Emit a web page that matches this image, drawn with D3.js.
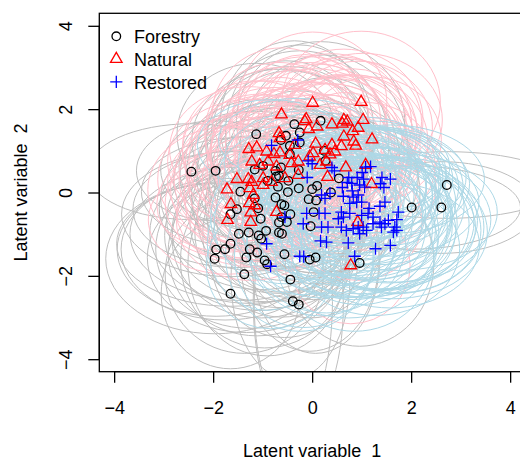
<!DOCTYPE html>
<html>
<head>
<meta charset="utf-8">
<script src="https://cdn.jsdelivr.net/npm/d3@7/dist/d3.min.js"></script>
<style>
  html, body { margin: 0; padding: 0; background: #fff; }
  svg { display: block; }
  text { font-family: "Liberation Sans", Arial, Helvetica, sans-serif; fill: #000; }
</style>
</head>
<body>
<svg id="chart" width="520" height="463"></svg>
<script>
// Site scores on the two latent variables, with the half-widths of each site's prediction region
const forestryX = [-2.44,-1.95,-1.13,0.17,-0.36,-0.53,-0.63,-0.25,-0.45,-0.45, -0.25,0.24,0.27,-1.16,-0.99,-0.74,-0.67,-0.73,-0.63,-0.27, -0.90,-0.69,-0.48,-0.27,0.00,0.10,0.38,0.54,2.72,-1.45, -1.16,-0.74,-0.49,-0.07,0.08,-0.62,-0.56,-1.09,-1.52,-1.65, -1.04,-0.62,-0.51,-0.44,-0.67,0.03,-0.03,2.01,2.61,-1.48, -1.28,-1.08,-1.03,-0.93,-0.67,-0.61,-1.65,-1.76,-1.94,-1.97, -1.26,-1.11,-1.33,-0.96,-0.91,-0.56,-0.05,0.07,0.96,-1.37, -0.44,-1.65,-0.39,-0.27];
const forestryY = [0.50,0.52,1.40,1.72,1.64,1.36,1.26,1.44,1.12,0.92, 1.20,1.00,0.76,0.55,0.64,0.52,0.40,0.38,0.60,0.54, 0.28,0.14,0.28,0.10,0.08,0.16,0.00,0.34,0.18,0.02, -0.14,-0.12,0.01,-0.16,-0.19,-0.28,-0.31,-0.38,-0.40,-0.52, -0.63,-0.59,-0.71,-0.52,-0.72,-0.47,-0.81,-0.36,-0.36,-0.99, -0.96,-1.03,-1.11,-0.92,-0.96,-0.99,-1.23,-1.36,-1.37,-1.59, -1.36,-1.44,-1.56,-1.63,-1.72,-1.48,-1.61,-1.56,-1.69,-1.96, -2.09,-2.43,-2.61,-2.69];
const forestryRX = [2.1,1.6,1.6,1.7,1.5,1.6,1.8,1.5,1.7,1.6, 1.8,1.7,1.5,1.9,1.7,1.8,2.0,1.6,1.7,1.5, 1.9,1.8,1.6,1.7,1.5,1.6,1.8,1.6,2.3,2.0, 1.9,1.7,1.6,1.5,1.7,1.8,1.6,2.0,2.1,2.2, 1.9,1.7,1.6,1.5,1.8,1.6,1.5,2.2,1.9,2.2, 2.0,1.9,1.8,1.9,1.7,1.6,2.3,2.1,2.0,2.2, 1.9,1.8,2.0,1.7,1.6,1.5,1.4,1.3,1.5,1.6, 1.2,1.4,0.8,0.9];
const forestryRY = [1.15,1.2,1.7,1.9,2.0,1.8,1.7,2.1,1.9,2.0, 2.2,2.3,2.0,1.4,1.6,1.5,1.7,1.8,1.6,1.9, 1.5,1.7,1.8,1.9,2.0,2.1,1.9,1.8,0.8,1.3, 1.5,1.7,1.8,1.9,2.0,1.6,1.8,1.5,1.4,1.5, 1.7,1.8,1.9,2.0,1.7,2.1,2.2,1.0,1.1,1.6, 1.7,1.8,1.9,1.7,1.8,2.0,1.5,1.7,1.6,1.8, 1.9,2.0,1.8,2.1,2.2,2.0,2.2,2.3,2.0,1.9, 2.4,1.8,2.9,2.8];

const naturalX = [0.01,0.99,-0.62,-0.12,-0.15,0.64,0.71,0.61,1.03,0.40, 0.10,-0.07,-0.67,0.82,0.93,0.07,0.64,0.84,0.88,1.21, 0.40,0.59,0.46,0.26,0.36,-1.28,-1.12,-0.92,-0.65,-0.77, -0.65,-0.35,-0.45,-1.22,-1.06,-0.89,-0.72,-0.42,-0.28,0.02, -0.05,0.29,0.16,0.68,1.08,1.20,0.31,-1.52,-1.29,-0.99, -0.82,-0.55,-0.28,-1.72,-1.22,-0.99,-1.26,-1.19,-1.64,-1.27, -1.16,-0.72,-1.24,-1.71,-1.24,0.92,0.78];
const naturalY = [2.15,2.17,1.87,1.76,1.71,1.74,1.70,1.65,1.74,1.63, 1.58,1.52,1.42,1.47,1.55,1.17,1.34,1.22,1.12,1.27, 1.14,1.11,0.98,1.02,0.91,1.04,1.08,0.98,0.96,0.92, 1.30,1.14,0.90,0.74,0.66,0.74,0.62,0.70,0.74,0.94, 0.86,0.74,0.66,0.60,0.66,0.20,0.37,0.32,0.32,0.34, 0.25,0.34,0.42,0.07,0.25,0.18,0.10,-0.06,-0.28,-0.26, -0.31,-0.47,-0.48,-0.66,-0.71,-0.71,-1.75];
const naturalRX = [1.5,1.6,1.4,1.5,1.3,1.6,1.5,1.4,1.6,1.5, 1.4,1.6,1.5,1.3,1.5,1.6,1.4,1.5,1.3,1.4, 1.6,1.5,1.4,1.7,1.5,1.6,1.5,1.7,1.4,1.6, 1.5,1.4,1.6,1.7,1.5,1.6,1.4,1.5,1.7,1.6, 1.5,1.4,1.6,1.3,1.4,1.3,1.5,1.6,1.5,1.7, 1.4,1.6,1.5,1.6,1.7,1.5,1.6,1.4,1.5,1.7, 1.4,1.6,1.5,1.6,1.5,1.3,1.2];
const naturalRY = [1.7,1.7,1.6,1.5,1.6,1.7,1.5,1.6,1.6,1.7, 1.5,1.6,1.7,1.5,1.6,1.8,1.5,1.6,1.7,1.5, 1.6,1.7,1.8,1.6,1.7,1.5,1.6,1.7,1.8,1.6, 1.7,1.8,1.6,1.5,1.7,1.6,1.7,1.8,1.6,1.7, 1.8,1.6,1.7,1.8,1.5,1.6,1.7,1.5,1.6,1.7, 1.6,1.8,1.7,1.5,1.4,1.6,1.5,1.4,1.3,1.4, 1.3,1.4,1.3,1.3,1.4,1.4,1.4];

const restoredX = [-0.82,-0.29,-0.08,0.00,-0.10,0.40,0.45,0.74,0.71,0.91, 1.01,1.08,1.18,1.04,1.41,1.58,1.45,1.38,0.61,0.81, 0.80,0.96,1.06,0.19,0.36,0.26,0.63,0.83,0.93,1.00, 0.90,0.76,1.37,1.47,1.15,0.26,0.14,-0.11,-0.18,0.59, 0.63,0.76,0.53,1.00,1.13,1.23,1.37,1.54,1.47,1.74, 1.71,0.19,0.32,0.59,0.69,0.83,0.93,1.03,1.10,0.96, 1.23,1.40,1.67,1.71,1.64,0.17,0.29,0.73,1.28,1.58, -0.92,-0.84,-0.25,-0.17,0.86,-0.55];
const restoredY = [1.13,1.26,0.76,0.69,0.36,0.60,0.52,0.36,0.24,0.36, 0.48,0.61,0.62,0.32,0.36,0.32,0.12,0.21,0.12,0.04, 0.22,0.18,0.13,-0.06,-0.02,-0.14,-0.09,-0.11,-0.06,-0.23, -0.23,-0.26,-0.33,-0.23,-0.38,-0.50,-0.50,-0.50,-0.75,-0.47, -0.59,-0.50,-0.63,-0.55,-0.50,-0.59,-0.71,-0.67,-0.75,-0.47, -0.65,-0.83,-0.83,-0.83,-0.91,-0.87,-0.83,-0.83,-0.91,-0.99, -0.75,-0.83,-0.83,-0.91,-0.95,-1.16,-1.19,-1.21,-1.35,-1.27, -1.23,-1.77,-1.53,-1.54,-1.53,-0.59];
const restoredRX = [1.5,1.6,1.7,1.5,1.8,1.6,1.7,1.9,1.6,1.8, 1.7,1.5,1.6,1.8,1.7,1.9,1.6,1.8,1.7,1.5, 1.8,1.6,1.9,1.5,1.7,1.6,1.8,1.7,1.5,1.9, 1.6,1.8,1.7,1.9,1.6,1.5,1.7,1.6,1.8,1.7, 1.6,1.9,1.5,1.8,1.7,1.6,1.9,1.8,1.7,2.0, 1.9,1.6,1.5,1.7,1.8,1.6,1.9,1.7,1.8,1.6, 1.7,1.9,1.8,1.7,1.9,1.5,1.6,1.8,1.7,1.8, 1.2,1.3,1.5,1.4,1.6,1.5];
const restoredRY = [1.1,1.0,1.2,1.2,1.3,1.1,1.2,1.3,1.4,1.2, 1.1,1.2,1.1,1.3,1.2,1.3,1.4,1.3,1.4,1.3, 1.4,1.3,1.4,1.5,1.4,1.5,1.4,1.5,1.4,1.5, 1.4,1.5,1.4,1.3,1.5,1.6,1.5,1.6,1.7,1.5, 1.6,1.5,1.6,1.5,1.6,1.5,1.6,1.5,1.6,1.4, 1.5,1.7,1.6,1.7,1.6,1.7,1.6,1.7,1.6,1.7, 1.6,1.5,1.6,1.5,1.6,1.8,1.7,1.8,1.6,1.5, 1.6,1.5,1.8,1.7,1.8,1.6];

const groupNames = ["Forestry", "Natural", "Restored"];
const tickValues = [-4, -2, 0, 2, 4];
const xLabel = "Latent variable  1";
const yLabel = "Latent variable  2";

const groups = [
  { name: groupNames[0], xs: forestryX, ys: forestryY, rx: forestryRX, ry: forestryRY, pch: "circle",   col: "#000000", ring: "#bebebe" },
  { name: groupNames[1], xs: naturalX,  ys: naturalY,  rx: naturalRX,  ry: naturalRY,  pch: "triangle", col: "#ff0000", ring: "#ffc0cb" },
  { name: groupNames[2], xs: restoredX, ys: restoredY, rx: restoredRX, ry: restoredRY, pch: "plus",     col: "#0000ff", ring: "#add8e6" }
];

const svg = d3.select("#chart");
const plot = { left: 99.3, right: 525, top: 13.3, bottom: 371.7 };

const x = d3.scaleLinear().domain([-4.3, 4.3]).range([plot.left, plot.right]);
const y = d3.scaleLinear().domain([-4.3, 4.3]).range([plot.bottom, plot.top]);

svg.append("defs").append("clipPath").attr("id", "plotArea")
  .append("rect")
  .attr("x", plot.left).attr("y", plot.top)
  .attr("width", plot.right - plot.left).attr("height", plot.bottom - plot.top);

// Prediction regions around each site
const regions = svg.append("g").attr("clip-path", "url(#plotArea)");
groups.forEach(g => {
  regions.append("g").selectAll("ellipse")
    .data(g.xs.map((v, i) => ({ x: v, y: g.ys[i], rx: g.rx[i], ry: g.ry[i] })))
    .join("ellipse")
    .attr("cx", d => x(d.x))
    .attr("cy", d => y(d.y))
    .attr("rx", d => x(d.x + d.rx) - x(d.x))
    .attr("ry", d => y(d.y) - y(d.y + d.ry))
    .attr("fill", "none")
    .attr("stroke", g.ring)
    .attr("stroke-width", 1);
});

// Point symbols in the style of R's pch 1, 2 and 3
const unit = 4.3;
function symbolPath(pch) {
  if (pch === "triangle") {
    const r = 1.5551 * unit, w = 1.3468 * unit, b = 0.7776 * unit;
    return `M0,${-r}L${w},${b}L${-w},${b}Z`;
  }
  const a = Math.SQRT2 * unit;
  return `M${-a},0H${a}M0,${-a}V${a}`;
}
function drawSymbol(sel, pch, col) {
  if (pch === "circle") {
    sel.append("circle").attr("r", unit).attr("fill", "none")
      .attr("stroke", col).attr("stroke-width", 1.3);
  } else {
    sel.append("path").attr("d", symbolPath(pch)).attr("fill", "none")
      .attr("stroke", col).attr("stroke-width", 1.3);
  }
}

const pts = svg.append("g").attr("clip-path", "url(#plotArea)");
groups.forEach(g => {
  pts.append("g").selectAll("g")
    .data(g.xs.map((v, i) => ({ x: v, y: g.ys[i] })))
    .join("g")
    .attr("transform", d => `translate(${x(d.x)},${y(d.y)})`)
    .each(function () { drawSymbol(d3.select(this), g.pch, g.col); });
});

// Frame
svg.append("rect")
  .attr("x", plot.left).attr("y", plot.top)
  .attr("width", plot.right - plot.left).attr("height", plot.bottom - plot.top)
  .attr("fill", "none").attr("stroke", "#000").attr("stroke-width", 1.3);

const fmt = v => (v < 0 ? "\u2212" + Math.abs(v) : String(v));

// Bottom axis
const xAxis = svg.append("g")
  .attr("transform", `translate(0,${plot.bottom})`)
  .call(d3.axisBottom(x).tickValues(tickValues).tickSize(11).tickPadding(19).tickFormat(fmt));
xAxis.select(".domain").remove();
xAxis.selectAll(".tick line").attr("stroke", "#000").attr("stroke-width", 1.3);
xAxis.selectAll(".tick text")
  .attr("font-size", 18).attr("fill", "#000")
  .style("font-family", '"Liberation Sans", Arial, Helvetica, sans-serif');
xAxis.append("line")
  .attr("x1", x(tickValues[0])).attr("x2", x(tickValues[tickValues.length - 1]))
  .attr("stroke", "#000").attr("stroke-width", 1.3);

// Left axis with labels turned parallel to the axis
const yAxis = svg.append("g")
  .attr("transform", `translate(${plot.left},0)`)
  .call(d3.axisLeft(y).tickValues(tickValues).tickSize(11).tickFormat(fmt));
yAxis.select(".domain").remove();
yAxis.selectAll(".tick line").attr("stroke", "#000").attr("stroke-width", 1.3);
yAxis.selectAll(".tick text")
  .attr("x", null).attr("dy", null)
  .attr("transform", "translate(-27,0) rotate(-90)")
  .attr("text-anchor", "middle")
  .attr("font-size", 18).attr("fill", "#000")
  .style("font-family", '"Liberation Sans", Arial, Helvetica, sans-serif');
yAxis.append("line")
  .attr("y1", y(tickValues[0])).attr("y2", y(tickValues[tickValues.length - 1]))
  .attr("stroke", "#000").attr("stroke-width", 1.3);

// Axis titles
svg.append("text")
  .attr("x", (plot.left + plot.right) / 2).attr("y", 456.7)
  .attr("text-anchor", "middle").attr("font-size", 18)
  .style("white-space", "pre")
  .text(xLabel);
svg.append("text")
  .attr("transform", `translate(26.8,${(plot.top + plot.bottom) / 2}) rotate(-90)`)
  .attr("text-anchor", "middle").attr("font-size", 18)
  .style("white-space", "pre")
  .text(yLabel);

// Legend
const legend = svg.append("g");
groups.forEach((g, i) => {
  const cy = 36.3 + i * 22.8;
  const item = legend.append("g");
  drawSymbol(item.append("g").attr("transform", `translate(116.3,${cy})`), g.pch, g.col);
  item.append("text").attr("x", 134).attr("y", cy + 7)
    .attr("font-size", 18).text(g.name);
});
</script>
</body>
</html>
